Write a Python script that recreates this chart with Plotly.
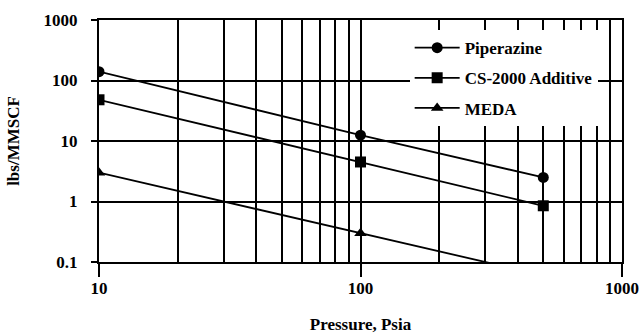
import plotly.graph_objects as go

pressure_pip = [10, 100, 500]
pip_vals = [140, 12.5, 2.5]
pressure_cs = [10, 100, 500]
cs_vals = [48, 4.5, 0.85]
pressure_meda = [10, 100, 500]
meda_vals = [3.0, 0.3, 0.06]

y_ticks = [0.1, 1, 10, 100, 1000]
y_labels = ["0.1", "1", "10", "100", "1000"]
x_ticks = [10, 100, 1000]
x_labels = ["10", "100", "1000"]
x_minor = [20, 30, 40, 50, 60, 70, 80, 90, 200, 300, 400, 500, 600, 700, 800, 900]

FONT = "Liberation Serif"
FS = 17

fig = go.Figure()
series = [
    ("Piperazine", pressure_pip, pip_vals, "circle", 11),
    ("CS-2000 Additive", pressure_cs, cs_vals, "square", 11),
    ("MEDA", pressure_meda, meda_vals, "triangle-up", 11),
]
for i, (name, xs, ys, sym, sz) in enumerate(series):
    fig.add_trace(go.Scatter(
        x=xs, y=ys, name=name, mode="lines+markers",
        line=dict(color="black", width=1.8),
        marker=dict(symbol=sym, size=sz, color="black"),
        legendgroup=f"g{i}", cliponaxis=True,
    ))

fig.update_layout(
    width=641, height=334,
    margin=dict(l=99, r=19, t=20, b=72),
    paper_bgcolor="white", plot_bgcolor="white",
    font=dict(family=FONT, size=FS, color="black"),
    showlegend=True,
    legend=dict(
        x=0.594, y=0.958, xanchor="left", yanchor="top",
        bgcolor="white", borderwidth=0,
        font=dict(family=FONT, size=FS, color="black", weight="bold"),
        traceorder="grouped", tracegroupgap=5, itemwidth=45,
    ),
)
fig.update_xaxes(
    type="log", range=[1, 3], automargin=False,
    tickvals=x_ticks, ticktext=x_labels,
    tickfont=dict(family=FONT, size=FS, weight="bold"),
    ticks="outside", ticklen=13, tickwidth=2, tickcolor="black",
    ticklabelstandoff=-3, ticklabeloverflow="allow",
    showline=True, linecolor="black", linewidth=2, mirror=True,
    showgrid=True, gridcolor="black", gridwidth=2,
    minor=dict(tickvals=x_minor, showgrid=True, gridcolor="black", gridwidth=2, ticklen=0),
    zeroline=False,
    title=dict(text="<b>Pressure, Psia</b>", font=dict(family=FONT, size=FS), standoff=23),
)
fig.update_yaxes(
    type="log", range=[-1, 3], automargin=False,
    tickvals=y_ticks, ticktext=y_labels,
    tickfont=dict(family=FONT, size=FS, weight="bold"),
    ticks="outside", ticklen=6, tickwidth=2, tickcolor="black",
    ticklabelstandoff=10,
    showline=True, linecolor="black", linewidth=2, mirror=True,
    showgrid=True, gridcolor="black", gridwidth=2,
    zeroline=False,
    title=dict(text="<b>lbs/MMSCF</b>", font=dict(family=FONT, size=FS), standoff=20),
)

fig.write_html(
    "out.html",
    config={"displayModeBar": False},
    post_script="document.body.style.margin='0px';document.body.style.overflow='hidden';",
)
